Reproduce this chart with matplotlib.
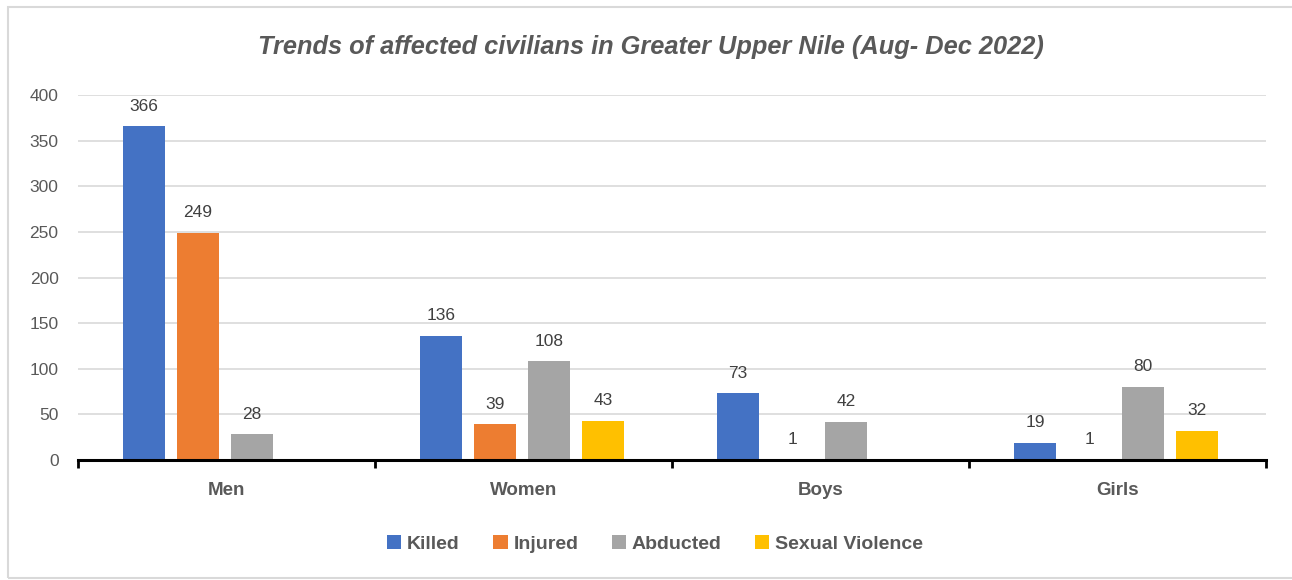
import matplotlib.pyplot as plt
import numpy as np
from matplotlib.patches import Rectangle

categories = ["Men", "Women", "Boys", "Girls"]
killed = [366, 136, 73, 19]
injured = [249, 39, 1, 1]
abducted = [28, 108, 42, 80]
sexual_violence = [np.nan, 43, np.nan, 32]

series = ["Killed", "Injured", "Abducted", "Sexual Violence"]
colors = ["#4472C4", "#ED7D31", "#A5A5A5", "#FFC000"]
values = [killed, injured, abducted, sexual_violence]

plt.rcParams["font.family"] = ["Liberation Sans", "DejaVu Sans"]
text_col = "#595959"

fig = plt.figure(figsize=(12.92, 5.8), dpi=100)
ax = fig.add_axes([0.0604, 0.2069, 0.9196, 0.6293])

# chart border like an excel chart area
fig.patches.append(Rectangle((8 / 1292, 0.003), 1.0, 0.985, transform=fig.transFigure,
                             fill=False, edgecolor="#d9d9d9", linewidth=1.5))

x = np.arange(len(categories))
width = 0.141
step = 0.182
for i, (name, vals, c) in enumerate(zip(series, values, colors)):
    pos = x + (i - 1.5) * step - 0.005
    ax.bar(pos, vals, width, color=c, label=name, zorder=3)
    for p, v in zip(pos, vals):
        if np.isnan(v):
            continue
        ax.annotate(f"{int(v)}", (p, v), xytext=(0, 9), textcoords="offset points",
                    ha="center", va="bottom", fontsize=12.5, color="#404040")

ax.set_xlim(-0.5, 3.5)
ax.set_ylim(0, 400)
ax.set_yticks(range(0, 401, 50))
ax.yaxis.grid(True, color="#d9d9d9", linewidth=1.2, zorder=0)
ax.set_axisbelow(True)

for s in ["left", "right", "top"]:
    ax.spines[s].set_visible(False)
ax.spines["bottom"].set_linewidth(2.2)
ax.spines["bottom"].set_color("black")
ax.spines["bottom"].set_zorder(4)

ax.set_xticks(x)
ax.set_xticklabels(categories, fontsize=13.5, fontweight="bold", color=text_col)
ax.set_xticks(np.arange(-0.5, 4, 1), minor=True)
ax.tick_params(axis="x", which="major", length=0, pad=16)
ax.tick_params(axis="x", which="minor", length=6, width=2, direction="out", color="black")
ax.tick_params(axis="y", length=0, labelsize=12.5, labelcolor=text_col, pad=14)

fig.text(651 / 1292, 1 - 47 / 580,
         "Trends of affected civilians in Greater Upper Nile (Aug- Dec 2022)",
         ha="center", va="center", fontsize=18.3, fontstyle="italic", fontweight="bold",
         color=text_col)

leg = fig.legend(loc="center", bbox_to_anchor=(0.507, 0.062), ncol=4, frameon=False,
                 handlelength=0.75, handleheight=0.75, handletextpad=0.3, columnspacing=1.7,
                 prop={"size": 14, "weight": "bold"})
for t in leg.get_texts():
    t.set_color(text_col)

fig.savefig("out.png", dpi=100)
